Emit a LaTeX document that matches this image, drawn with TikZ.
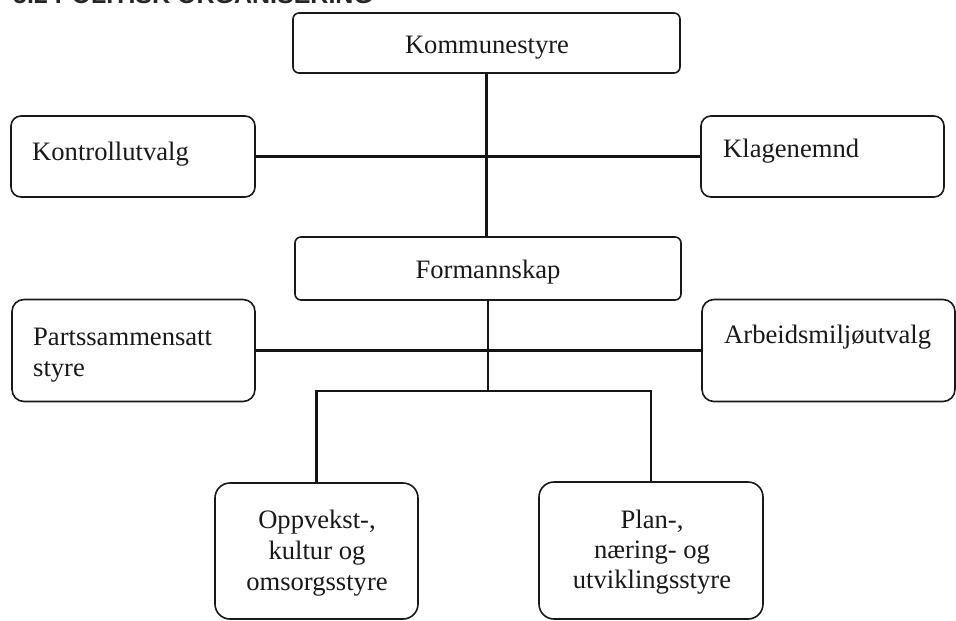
\documentclass[tikz,border=0pt]{standalone}
\usepackage{fontspec}
\setmainfont{Liberation Serif}
\newfontfamily\headfont{Liberation Sans}
\begin{document}
\begin{tikzpicture}[x=1pt,y=-1pt,
  box/.style={draw=black!90, line width=1.6pt, rectangle, inner sep=0pt, fill=white},
  conn/.style={draw=black!92, line width=2.5pt},
  lbl/.style={inner sep=0pt, font=\fontsize{26.6}{31}\selectfont, text=black!90}]
\useasboundingbox (0,0) rectangle (956,621);
\fill[white] (0,0) rectangle (956,621);

% partly visible heading (cut off by the top edge, as in the reference)
\node[anchor=base west, inner sep=0pt, font=\headfont\bfseries\fontsize{25}{30}\selectfont, text=black!85] (head) at (13,3) {5.2 POLITISK ORGANISERING};

% boxes
\node[box, rounded corners=6pt, minimum width=387pt, minimum height=60pt] (kom) at (486.5,43) {};
\node[box, rounded corners=10pt, minimum width=244pt, minimum height=81pt] (kon) at (133,156.5) {};
\node[box, rounded corners=10pt, minimum width=243pt, minimum height=81pt] (kla) at (822.5,156.5) {};
\node[box, rounded corners=6pt, minimum width=386pt, minimum height=63pt] (for) at (488,268.5) {};
\node[box, rounded corners=12pt, minimum width=243pt, minimum height=102pt] (par) at (133.5,350.5) {};
\node[box, rounded corners=12pt, minimum width=253pt, minimum height=102pt] (arb) at (828.5,350.5) {};
\node[box, rounded corners=15pt, minimum width=203pt, minimum height=136pt] (opp) at (316.5,551) {};
\node[box, rounded corners=15pt, minimum width=224pt, minimum height=137pt] (pla) at (651,550.5) {};

% connectors
\coordinate (bus) at (488,391);
\draw[conn] (kom.south) -- (kom.south |- for.north);
\draw[conn] (kon.east) -- (kla.west);
\draw[conn] (par.east) -- (arb.west);
\draw[conn] (for.south) -- (bus);
\draw[conn] (opp.north) |- (bus) -| (pla.north);

% texts
\node[lbl, anchor=base] (tkom) at (487,53) {Kommunestyre};
\node[lbl, anchor=base west] (tkon) at (32,160) {Kontrollutvalg};
\node[lbl, anchor=base west] (tkla) at (723,157) {Klagenemnd};
\node[lbl, anchor=base] (tfor) at (488,278) {Formannskap};
\node[lbl, anchor=base west] (tpar1) at (33,345) {Partssammensatt};
\node[lbl, anchor=base west] (tpar2) at (33,376) {styre};
\node[lbl, anchor=base west] (tarb) at (724,343) {Arbeidsmiljøutvalg};
\node[lbl, anchor=base] (topp1) at (317,528) {Oppvekst-,};
\node[lbl, anchor=base] (topp2) at (317,559) {kultur og};
\node[lbl, anchor=base] (topp3) at (317,590) {omsorgsstyre};
\node[lbl, anchor=base] (tpla1) at (652,528) {Plan-,};
\node[lbl, anchor=base] (tpla2) at (652,558) {næring- og};
\node[lbl, anchor=base] (tpla3) at (652,588) {utviklingsstyre};
\end{tikzpicture}
\end{document}
